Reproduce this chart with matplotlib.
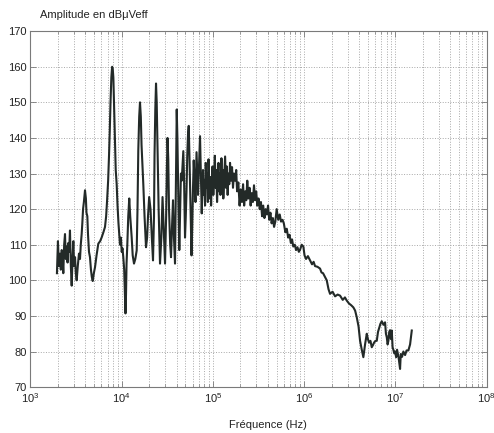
import numpy as np
import matplotlib.pyplot as plt
from matplotlib.ticker import LogLocator, MultipleLocator

plt.rcParams['font.family'] = ['Liberation Sans', 'DejaVu Sans']

freq_hz = [
    1950, 2000, 2050, 2110, 2150, 2200, 2250, 2290, 2340, 2390,
    2440, 2490, 2550, 2600, 2650, 2710, 2770, 2830, 2890, 2950,
    3010, 3080, 3140, 3210, 3300, 3400, 3490, 3560, 3640, 3700,
    3770, 3850, 3960, 4050, 4110, 4200, 4270, 4380, 4490, 4600,
    4700, 4810, 4950, 5100, 5300, 5540, 5800, 6040, 6300, 6560,
    6750, 6900, 7100, 7260, 7400, 7540, 7700, 7850, 7970, 8100,
    8230, 8440, 8600, 8810, 9000, 9220, 9400, 9580, 9800, 10000,
    10200, 10410, 10650, 10870, 11000, 11150, 11300, 11520, 11800, 12100,
    12400, 12870, 13200, 13640, 14100, 14600, 14900, 15200, 15550, 15870,
    16200, 16500, 17250, 17800, 18470, 19000, 19430, 20000, 20700, 21400,
    22040, 22600, 22900, 23350, 23780, 24200, 24690, 25400, 26300, 27200,
    28030, 28900, 29850, 30700, 31300, 31790, 32400, 33010, 34000, 34720,
    35600, 36520, 37400, 38410, 39300, 40110, 40800, 41970, 42800, 43600,
    44600, 45500, 46400, 47360, 48300, 49440, 50400, 51340, 52300, 53330,
    54300, 55390, 56800, 58270, 59300, 60500, 61600, 62840, 64400, 66120,
    67400, 68660, 70400, 72220, 73800, 75400, 76500, 77880, 79000, 80500,
    82000, 83400, 85000, 86500, 88000, 89500, 91000, 92500, 94000, 95500,
    97000, 99000, 101000, 103000, 105000, 107000, 109000, 111000, 113000, 115000,
    117000, 119000, 121000, 124000, 126000, 128000, 130000, 133000, 136000, 139000,
    142000, 145000, 148000, 151000, 154000, 158000, 162000, 166000, 170000, 175000,
    180000, 184000, 190000, 196000, 202000, 208000, 214000, 220000, 226000, 232000,
    238000, 245000, 252000, 259000, 266000, 274000, 282000, 290000, 298000, 307000,
    316000, 326000, 336000, 346000, 356000, 367000, 378000, 390000, 402000, 414000,
    427000, 440000, 454000, 468000, 483000, 500000, 520000, 540000, 558000, 580000,
    600000, 622000, 645000, 668000, 692000, 715000, 737000, 760000, 790000, 815000,
    845000, 875000, 902000, 940000, 980000, 1010000, 1049000, 1100000, 1160000, 1220000,
    1270000, 1317000, 1400000, 1494000, 1550000, 1612000, 1690000, 1769000, 1850000, 1923000,
    2050000, 2183000, 2330000, 2476000, 2650000, 2800000, 2932000, 3100000, 3280000, 3463000,
    3620000, 3775000, 3950000, 4102000, 4282000, 4458000, 4654000, 4858000, 5000000, 5147000,
    5330000, 5511000, 5680000, 5840000, 6050000, 6254000, 6450000, 6627000, 6860000, 7094000,
    7400000, 7713000, 7880000, 8051000, 8220000, 8383000, 8560000, 8749000, 8940000, 9131000,
    9320000, 9508000, 9720000, 9924000, 10200000, 10438000, 10840000, 11260000, 11460000, 11840000,
    12240000, 12780000, 13270000, 13890000, 14500000, 15130000,
]
level_db = [
    102.0, 111.0, 104.0, 107.5, 103.0, 108.5, 106.0, 102.0, 110.0, 113.0,
    106.0, 109.5, 105.0, 110.5, 108.0, 114.0, 104.0, 98.5, 106.0, 111.0,
    104.0, 106.5, 102.0, 100.0, 104.0, 107.5, 106.0, 110.0, 113.0, 116.0,
    120.0, 122.0, 125.3, 123.0, 119.0, 118.0, 113.0, 108.0, 106.5, 103.0,
    101.0, 99.8, 102.0, 103.7, 107.0, 110.3, 111.0, 112.1, 113.5, 115.0,
    118.0, 122.0, 128.0, 135.0, 142.0, 150.0, 157.0, 160.0, 159.5, 157.0,
    150.0, 138.0, 131.0, 127.0, 121.0, 116.0, 113.0, 110.0, 112.0, 108.0,
    109.0, 106.5, 103.0, 95.0, 90.7, 96.0, 104.7, 110.0, 118.0, 123.0,
    118.0, 112.0, 107.0, 104.7, 106.0, 108.4, 120.0, 136.5, 146.0, 150.0,
    146.0, 138.0, 127.0, 118.0, 109.3, 112.0, 118.0, 123.4, 120.0, 112.0,
    105.6, 118.0, 135.0, 148.0, 155.3, 150.0, 138.0, 120.0, 104.7, 112.0,
    123.4, 114.0, 104.7, 118.0, 132.0, 140.0, 134.0, 120.0, 110.0, 106.5,
    115.0, 122.5, 112.0, 104.7, 128.0, 148.0, 140.0, 120.0, 108.5, 118.0,
    130.0, 128.0, 132.0, 136.3, 128.0, 112.0, 118.0, 125.0, 135.0, 141.0,
    143.4, 134.0, 120.0, 107.0, 115.0, 126.0, 133.7, 128.0, 122.0, 136.0,
    130.0, 124.0, 132.0, 140.5, 130.0, 118.8, 125.0, 131.0, 124.0, 128.0,
    121.0, 133.0, 126.0, 130.0, 122.0, 134.0, 127.0, 123.0, 129.0, 121.0,
    128.0, 132.0, 124.0, 130.0, 135.0, 126.0, 131.0, 122.0, 128.0, 133.0,
    125.0, 130.0, 124.0, 134.3, 127.0, 131.0, 123.0, 129.0, 134.8, 126.0,
    132.0, 124.0, 130.0, 127.0, 133.0, 128.0, 131.8, 126.0, 130.0, 128.0,
    131.0, 125.0, 127.5, 121.0, 125.5, 122.0, 127.0, 121.0, 125.0, 122.5,
    128.0, 123.0, 126.0, 121.0, 124.5, 122.0, 126.7, 122.5, 125.0, 121.0,
    123.0, 120.0, 122.0, 118.0, 121.0, 117.5, 120.0, 118.5, 121.0, 117.0,
    119.0, 116.0, 117.5, 115.0, 116.5, 120.0, 117.0, 118.5, 116.5, 117.0,
    115.9, 113.5, 114.5, 112.0, 112.8, 110.5, 111.5, 109.5, 110.0, 108.5,
    109.3, 108.0, 108.6, 110.0, 109.5, 107.0, 106.0, 106.8, 105.6, 104.5,
    105.2, 104.0, 103.8, 103.3, 102.2, 102.0, 101.0, 100.0, 97.5, 96.2,
    96.8, 95.5, 96.0, 95.7, 94.5, 95.2, 94.3, 93.5, 93.0, 92.4,
    91.5, 89.6, 87.0, 83.0, 80.5, 78.4, 82.0, 85.0, 83.5, 82.5,
    83.0, 81.2, 81.8, 82.5, 83.0, 83.0, 85.5, 86.5, 87.8, 88.5,
    87.5, 88.2, 85.0, 84.0, 82.0, 83.0, 85.5, 86.0, 83.5, 85.9,
    81.2, 80.5, 79.5, 80.0, 78.4, 80.5, 78.4, 75.1, 79.3, 78.5,
    80.0, 79.0, 80.3, 80.3, 82.0, 85.9,
]

fig = plt.figure(figsize=(4.94, 4.33), dpi=100)
ax = fig.add_axes([0.0617, 0.106, 0.9233, 0.822])

ax.semilogx(freq_hz, level_db, color='#232a28', lw=1.5)

ax.set_xlim(1e3, 1e8)
ax.set_ylim(70, 170)
ax.yaxis.set_major_locator(MultipleLocator(10))
ax.xaxis.set_major_locator(LogLocator(base=10, numticks=10))
ax.xaxis.set_minor_locator(LogLocator(base=10, subs=np.arange(2, 10), numticks=20))

# grille en pointilles facon Matlab
ax.grid(True, which='major', axis='both', ls=':', color='#a8a8a8', lw=0.7)
ax.grid(True, which='minor', axis='x', ls=':', color='#a8a8a8', lw=0.7)
ax.set_axisbelow(True)

for s in ax.spines.values():
    s.set_color('#7a7a7a')
    s.set_linewidth(0.8)
ax.tick_params(which='both', direction='in', top=True, right=True,
               colors='#7a7a7a', labelcolor='#222222', labelsize=8)
ax.tick_params(which='major', length=4, width=0.6)
ax.tick_params(which='minor', length=2, width=0.5)
ax.tick_params(axis='y', pad=2.5)
ax.tick_params(axis='x', pad=3)

fig.text(0.081, 0.965, 'Amplitude en dBμVeff', fontsize=8, color='#222222',
         ha='left', va='center')
fig.text(0.5425, 0.0185, 'Fréquence (Hz)', fontsize=8, color='#222222',
         ha='center', va='center')

fig.savefig('out.png', dpi=100)
